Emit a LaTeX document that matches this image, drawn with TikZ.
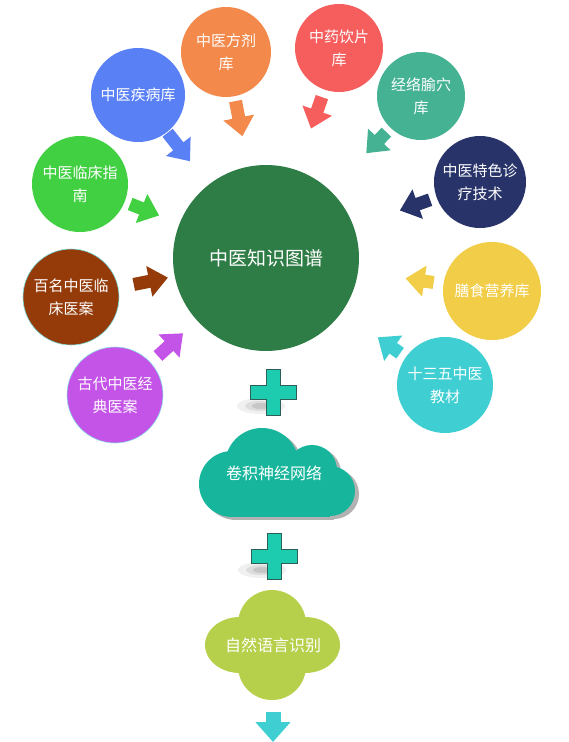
\documentclass[tikz,border=0pt]{standalone}
\usepackage{fontspec}
\newfontfamily\cjk{Noto Sans CJK SC}
\usetikzlibrary{arrows.meta}

\definecolor{kgc}{HTML}{2F7D46}
\definecolor{bluec}{HTML}{5A80F6}
\definecolor{orangec}{HTML}{F3894B}
\definecolor{redc}{HTML}{F65E5E}
\definecolor{tealc}{HTML}{45B294}
\definecolor{navyc}{HTML}{283369}
\definecolor{yellowc}{HTML}{F1CD48}
\definecolor{cyanc}{HTML}{3FCFD2}
\definecolor{greenc}{HTML}{42D043}
\definecolor{brownc}{HTML}{953B0A}
\definecolor{purplec}{HTML}{C454E8}
\definecolor{plusc}{HTML}{1DCBAE}
\definecolor{plusedge}{HTML}{2D5E57}
\definecolor{cloudc}{HTML}{17B69C}
\definecolor{flowerc}{HTML}{B7D04B}

\def \kgradius {186pt}
\def \topicsize {96pt}

\tikzset{
  topic/.style={circle, inner sep=0pt, outer sep=0pt, text=white, align=center,
    font=\cjk\fontsize{15}{23}\selectfont},
  fatarrow/.style={line width=13pt, -{Triangle[length=19pt,width=30pt]}},
  plussign/.pic={
    \fill[black, opacity=0.06] (-12,14) ellipse (24 and 8);
    \fill[black, opacity=0.08] (-12,14) ellipse (16 and 5);
    \fill[black, opacity=0.10] (-12,14) ellipse (9 and 3);
    \filldraw[fill=plusc, draw=plusedge, line width=1pt]
      (-7,-23) -- (7,-23) -- (7,-7) -- (23,-7) -- (23,7) -- (7,7) -- (7,23)
      -- (-7,23) -- (-7,7) -- (-23,7) -- (-23,-7) -- (-7,-7) -- cycle;
  }
}

\begin{document}
\begin{tikzpicture}[x=1pt, y=-1pt]
\useasboundingbox[fill=white] (0,0) rectangle (569,742);

\node[topic, fill=kgc, minimum size=\kgradius, font=\cjk\fontsize{19}{23}\selectfont] (kg) at (266,258) {中医知识图谱};

\node[topic, fill=bluec, minimum size=94pt] (jibing) at (138,95) {中医疾病库};
\node[topic, fill=orangec, minimum size=90pt] (fangji) at (226,52) {中医方剂\\库};
\node[topic, fill=redc, minimum size=88pt] (yinpian) at (339,48) {中药饮片\\库};
\node[topic, fill=tealc, minimum size=88pt] (shuxue) at (421,96) {经络腧穴\\库};
\node[topic, fill=navyc, minimum size=92pt] (tese) at (480,182) {中医特色诊\\疗技术};
\node[topic, fill=yellowc, minimum size=98pt] (shanshi) at (492,291) {膳食营养库};
\node[topic, fill=cyanc, minimum size=\topicsize] (jiaocai) at (445,385) {十三五中医\\教材};
\node[topic, fill=greenc, minimum size=\topicsize] (zhinan) at (80,184) {中医临床指\\南};
\node[topic, fill=brownc, draw=cyanc!70, line width=0.6pt, minimum size=\topicsize] (yian) at (71,297) {百名中医临\\床医案};
\node[topic, fill=purplec, draw=cyanc!60, line width=0.6pt, minimum size=\topicsize] (gudai) at (115,395) {古代中医经\\典医案};

\draw[fatarrow, draw=bluec, shorten <=1pt, shorten >=30pt] (jibing) -- (kg);
\draw[fatarrow, draw=orangec, shorten <=5pt, shorten >=31pt] (fangji) -- (kg);
\draw[fatarrow, draw=redc, shorten <=8pt, shorten >=44pt] (yinpian) -- (kg);
\draw[fatarrow, draw=tealc, shorten <=6pt, shorten >=52pt] (shuxue) -- (kg);
\draw[fatarrow, draw=navyc, shorten <=7pt, shorten >=49pt] (tese) -- (kg);
\draw[fatarrow, draw=yellowc, shorten <=10pt, shorten >=48pt] (shanshi) -- (kg);
\draw[fatarrow, draw=cyanc, shorten <=7pt, shorten >=44pt] (jiaocai) -- (kg);
\draw[fatarrow, draw=greenc, shorten <=6pt, shorten >=22pt] (zhinan) -- (kg);
\draw[fatarrow, draw=brownc, shorten <=16pt, shorten >=7pt] (yian) -- (kg);
\draw[fatarrow, draw=purplec, shorten <=10pt, shorten >=19pt] (gudai) -- (kg);

\pic at (273,392) {plussign};

% cloud
\begin{scope}[shift={(4,3)}, fill=black!30]
\fill (232,484) circle (33);
\fill (262,465) circle (37);
\fill (312,470) circle (25);
\fill (330,491) circle (25);
\fill (232,470) rectangle (330,517);
\end{scope}
\begin{scope}[fill=cloudc]
\fill (232,484) circle (33);
\fill (262,465) circle (37);
\fill (312,470) circle (25);
\fill (330,491) circle (25);
\fill (232,470) rectangle (330,517);
\end{scope}
\node[topic, rectangle, minimum width=157pt, minimum height=89pt, font=\cjk\fontsize{16}{20}\selectfont] (cnn) at (274,473) {卷积神经网络};

\pic at (274,556) {plussign};

% flower
\begin{scope}[fill=flowerc]
\fill (272,624) circle (34);
\fill (272,666) circle (34);
\fill (240,645) ellipse (35 and 28);
\fill (305,645) ellipse (35 and 28);
\end{scope}
\node[topic, rectangle, minimum width=135pt, minimum height=110pt, font=\cjk\fontsize{16}{20}\selectfont] (nlp) at (273,645) {自然语言识别};

\coordinate (down) at (273,742);
\draw[draw=cyanc, line width=15pt, -{Triangle[length=20pt,width=34pt]}, shorten <=12pt] (nlp) -- (down);
\end{tikzpicture}
\end{document}
